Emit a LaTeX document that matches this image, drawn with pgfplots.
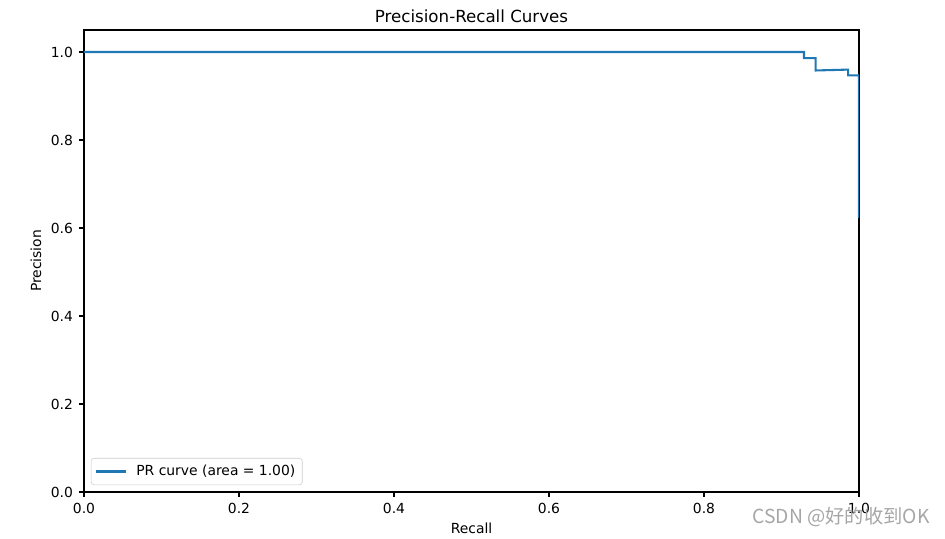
\documentclass[border=0pt]{standalone}
\usepackage{pgfplots}
\pgfplotsset{compat=1.18}
\usetikzlibrary{calc}
\usepackage{fontspec}
\setmainfont{DejaVu Sans}
\newfontfamily\cjk{Noto Sans CJK SC}
\definecolor{c0}{HTML}{1F77B4}
\begin{document}
\begin{tikzpicture}
\begin{axis}[
    name=ax,
    at={(0,0)}, anchor=south west,
    scale only axis,
    width=558pt, height=332.64pt,
    xmin=0, xmax=1, ymin=0, ymax=1.05,
    xtick={0,0.2,...,1}, ytick={0,0.2,...,1},
    /pgf/number format/.cd, fixed, fixed zerofill, precision=1, assume math mode=true,
    /pgfplots/.cd,
    tick align=outside, major tick length=3.5pt,
    xtick pos=bottom, ytick pos=left,
    axis line style={line width=0.8pt},
    every tick/.style={black, line width=0.8pt},
    ticklabel style={font=\fontsize{10}{12}\selectfont},
    xticklabel style={yshift=-1pt},
    yticklabel style={xshift=-1pt},
    label style={font=\fontsize{10}{12}\selectfont},
    xlabel={Recall}, ylabel={Precision},
    title={Precision-Recall Curves},
    title style={font=\fontsize{12}{14}\selectfont, yshift=-4pt},
    legend style={at={(0,0)}, anchor=south west, xshift=5pt, yshift=5pt,
        draw=black!20, rounded corners=2pt, fill=white, fill opacity=0.8, text opacity=1,
        font=\fontsize{10}{12}\selectfont, inner sep=3pt},
    legend cell align=left,
    legend image code/.code={\draw[#1] (0pt,0pt) -- (21pt,0pt); \path (26pt,0pt);},
]
\addplot[c0, line width=1.5pt, line join=miter] coordinates {
    (0.000,1.000) (0.929,1.000) (0.929,0.986) (0.944,0.986)
    (0.944,0.958) (0.986,0.960) (0.986,0.947) (1.000,0.947)
    (1.000,0.623)
};
\legend{PR curve (area = 1.00)}
\end{axis}
\path (ax.south west) ++(-60.48pt,-31.68pt) coordinate (bl);
\path (ax.south west) ++(619.92pt,354.24pt) coordinate (tr);
\path (bl) rectangle (tr);
\node[anchor=east, text=black!35, font=\cjk\fontsize{13.9}{15}\selectfont, inner sep=0pt]
    at ($(ax.south west)+(609pt,-18pt)$) {CSDN @好的收到OK};
\end{tikzpicture}
\end{document}
